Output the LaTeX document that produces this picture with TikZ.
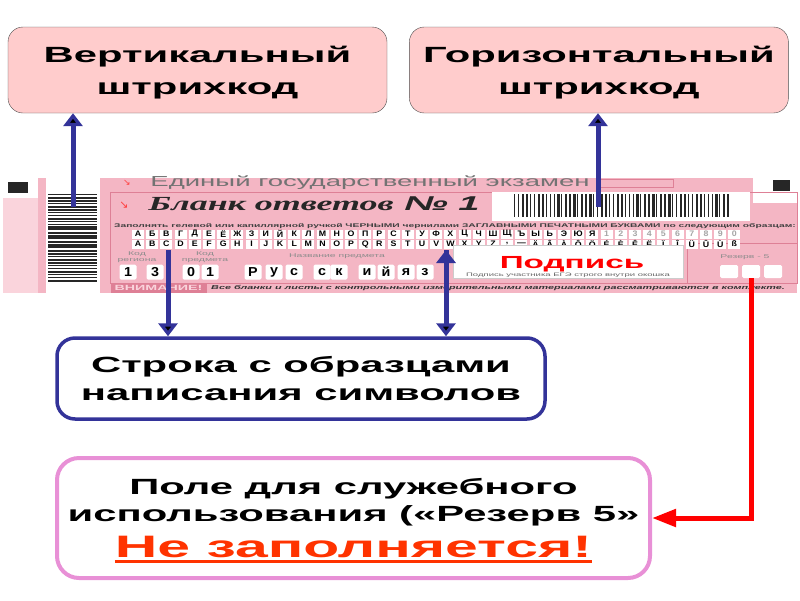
\documentclass[tikz,border=0pt]{standalone}
\usepackage{fontspec}
\setmainfont{Liberation Sans}[FakeStretch=1.9]
\newfontfamily\serifform{Liberation Serif}[FakeStretch=1.8]
\newfontfamily\cellfont{Liberation Sans}[FakeStretch=1.1]
\newfontfamily\symbolfont{DejaVu Sans}
\usetikzlibrary{
  arrows.meta,
  positioning,
}
\definecolor{calloutpink}{RGB}{255,204,204}
\definecolor{arrowblue}{RGB}{51,51,153}
\definecolor{fieldorchid}{RGB}{232,144,214}
\definecolor{formpink}{RGB}{244,182,196}
\definecolor{formlight}{RGB}{250,212,220}
\definecolor{formline}{RGB}{222,128,150}
\definecolor{warnred}{RGB}{255,51,0}
\tikzset{
  >={Triangle[width=19pt,length=13pt]},
}
\newcommand\warnul[1]{\setbox0=\hbox{#1}\rlap{\rule[-5pt]{\wd0}{2.5pt}}\box0}

\begin{document}
\begin{tikzpicture}[
      x=1pt, y=-1pt,
      every node/.style={
        align=center,
        inner sep=0pt,
      },
      callout/.style={draw=black!70,
        fill=calloutpink,
        rounded corners=15pt,
        minimum width=379pt,
        minimum height=86pt,
        text depth=0cm, % keep the lines a bit lower
        font=\fontsize{22}{32}\selectfont\bfseries,
      },
      legend/.style={draw,
        line width=3.5pt,
        fill=white,
        rounded corners=18pt,
        text depth=0cm,
      },
      bluearrow/.style={->, draw=arrowblue, line width=5pt},
      redarrow/.style={-{Triangle[width=17pt,length=24pt]}, draw=red, line width=5pt},
      cell/.style={fill=white,
        minimum width=12pt,
        minimum height=9pt,
        font=\cellfont\fontsize{8}{8}\selectfont\bfseries,
      },
      numcell/.style={fill=white,
        rounded corners=1.5pt,
        minimum width=17pt,
        minimum height=15pt,
        font=\cellfont\fontsize{13}{13}\selectfont\bfseries,
      },
      formnote/.style={text=black!45,
        font=\fontsize{5.5}{6}\selectfont,
      },
      ]
      \useasboundingbox (0,0) rectangle (800,600);

      % form sheet
      \fill[formlight] (3,198) rectangle (38,293);
      \fill[formpink] (38,178) rectangle (46,293);
      \fill[white] (46,192) rectangle (100,293);
      \fill[formpink] (100,178) rectangle (753,293);
      \fill[formpink] (753,203) rectangle (797,293);
      \fill[black!85] (8,182) rectangle (28,193);
      \fill[black!85] (773,180) rectangle (790,191);
      \draw[formline] (110,192) rectangle (797,283);
      \draw[formline] (600,179) rectangle (673,187);
      \draw[formline] (687,243) rectangle (797,283);

      % barcodes
      \foreach \i in {0,...,29}{
        \pgfmathsetmacro\barh{1+mod(\i*7,3)*0.7}
        \fill[black!85] (48,194+\i*2.95) rectangle ++(49,\barh);
      }
      \fill[white] (492,192) rectangle (750,221);
      \foreach \i in {0,...,54}{
        \pgfmathsetmacro\barw{0.8+mod(\i*5,4)*0.55}
        \fill[black!85] (514+\i*3.95,194) rectangle ++(\barw,23);
      }

      % header
      \node[text=red!75, font=\symbolfont\fontsize{9}{9}\selectfont] (mark1) at (127,183) {↘};
      \node[text=red!75, font=\symbolfont\fontsize{11}{11}\selectfont] (mark2) at (124,205) {↘};
      \node[text=black!55, font=\fontsize{14.5}{14.5}\selectfont] (exam) at (370,183) {Единый государственный экзамен};
      \node[text=black!85, font=\fontsize{20}{20}\selectfont\bfseries\itshape] (title) at (314,204)
        {{\serifform Бланк ответов} № 1};
      \node[text=black!75, font=\fontsize{5.4}{6}\selectfont\bfseries] (rule) at (455,226)
        {Заполнять гелевой  или капиллярной ручкой ЧЕРНЫМИ чернилами ЗАГЛАВНЫМИ ПЕЧАТНЫМИ БУКВАМИ по следующим образцам:};

      % sample characters
      \foreach \c [count=\i from 0] in {А,Б,В,Г,Д,Е,Ё,Ж,З,И,Й,К,Л,М,Н,О,П,Р,С,Т,У,Ф,Х,Ц,Ч,Ш,Щ,Ъ,Ы,Ь,Э,Ю,Я}
        \node[cell] (cyr-\i) at (138+\i*14.2,234) {\c};
      \foreach \c [count=\i from 33] in {1,2,3,4,5,6,7,8,9,0}
        \node[cell, text=black!35] (cyr-\i) at (138+\i*14.2,234) {\c};
      \foreach \c [count=\i from 0] in {A,B,C,D,E,F,G,H,I,J,K,L,M,N,O,P,Q,R,S,T,U,V,W,X,Y,Z,{,},—,Ä,Â,À,Ô,Ö,É,È,Ê,Ë,Ï,Î,Ü,Û,Ù,ß}
        \node[cell] (lat-\i) at (138+\i*14.2,244) {\c};

      % codes and subject
      \node[formnote] (region) at (137,257) {Код \\ региона};
      \node[formnote] (subjcode) at (205,257) {Код \\ предмета};
      \node[formnote] (subjname) at (337,256) {Название предмета};
      \foreach \c/\x [count=\i] in {1/128,3/155,0/191,1/210}
        \node[numcell] (code-\i) at (\x,272) {\c};
      \foreach \c/\x [count=\i] in {Р/253,у/274,с/294,с/322,к/339,и/367,й/386,я/406,з/425}
        \node[numcell] (subj-\i) at (\x,272) {\c};

      % signature and reserve
      \node[fill=white, draw=black!20, minimum width=230pt, minimum height=33pt] (sign) at (568,261.5) {};
      \node[text=red, font=\fontsize{17.5}{18}\selectfont\bfseries] (signword) at (572,264) {Подпись};
      \node[formnote, text=black!60, font=\fontsize{5}{6}\selectfont] (signnote) at (568,275.5) {Подпись участника ЕГЭ строго внутри окошка};
      \node[formnote] (reserve) at (745,257) {Резерв - 5};
      \foreach \x [count=\i] in {729,751,773}
        \node[fill=white, rounded corners=1.5pt, minimum width=18pt, minimum height=13pt] (res-\i) at (\x,271.5) {};

      % bottom strip
      \node[fill=formline, text=formlight, minimum width=96pt, minimum height=9pt,
        font=\fontsize{7.5}{8}\selectfont\bfseries] (warn) at (158.5,288) {ВНИМАНИЕ!};
      \node[anchor=west, text=black!80, font=\fontsize{5.7}{7}\selectfont\bfseries\itshape] (warnnote) at (211,288)
        {Все бланки и листы с контрольными измерительными материалами рассматриваются в комплекте.};

      % callouts
      \node[callout] (vert) at (197.5,70) {Вертикальный \\ штрихкод};
      \node[callout, right=22pt of vert] (horiz) {Горизонтальный \\ штрихкод};
      \node[legend, draw=arrowblue, minimum width=488pt, minimum height=81pt,
        font=\fontsize{22}{28}\selectfont\bfseries] (samples) at (301,378.5)
        {Строка с образцами \\ написания символов};
      \node[legend, draw=fieldorchid, line width=4pt, rounded corners=22pt,
        minimum width=593pt, minimum height=120pt,
        font=\fontsize{22}{27}\selectfont\bfseries] (field) at (353.5,518)
        {Поле для служебного \\ использования («Резерв 5» \\[9pt]
         {\fontsize{31}{31}\selectfont\color{warnred}\warnul{Не заполняется!}}};

      \coordinate (vcode) at (73,207);
      \coordinate (hcode) at (598,207);
      \coordinate (cyrrow) at (168,250);
      \coordinate (latrow) at (446,250);

      \path[bluearrow]
      (vcode) edge (vcode |- vert.south)
      (hcode) edge (hcode |- horiz.south)
      (cyrrow) edge (cyrrow |- samples.north)
      (latrow) edge (latrow |- samples.north)
      ;
      \draw[redarrow] (res-2.south) |- (field.east);
    \end{tikzpicture}
\end{document}
